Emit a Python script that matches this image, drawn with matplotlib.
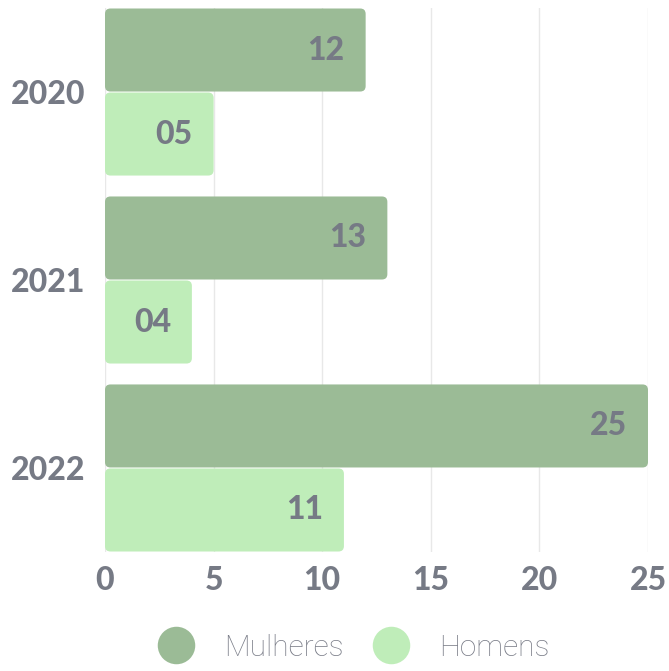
import matplotlib
matplotlib.use("Agg")
import matplotlib.pyplot as plt
from matplotlib.patches import FancyBboxPatch
from matplotlib.lines import Line2D

# data
years = ["2020", "2021", "2022"]
mulheres = [12, 13, 25]
homens = [5, 4, 11]
series_names = ["Mulheres", "Homens"]
x_ticks = [0, 5, 10, 15, 20, 25]

c_mulheres = "#9bbb96"
c_homens = "#bfedb9"
c_text = "#767a85"

plt.rcParams["font.family"] = ["Lato", "DejaVu Sans"]

fig = plt.figure(figsize=(6.69, 6.71), dpi=100)
ax = fig.add_axes([105 / 669, 119 / 671, 543 / 669, 544 / 671])

bar_h = 0.447
ypos = list(range(len(years)))
bars_m = ax.barh([y - bar_h / 2 for y in ypos], mulheres, height=bar_h, color=c_mulheres)
bars_h = ax.barh([y + bar_h / 2 for y in ypos], homens, height=bar_h, color=c_homens)

ax.set_xlim(0, 25)
ax.set_ylim(2 + bar_h, -bar_h)

# swap plain rectangles for rounded ones (same geometry)
px_x = 543 / 25
px_y = 544 / (2 + 2 * bar_h)
for bars, color in ((bars_m, c_mulheres), (bars_h, c_homens)):
    for r in bars:
        r.set_visible(False)
        x0, y0 = r.get_x(), r.get_y()
        w, h = r.get_width(), r.get_height()
        gap = 0.5 / px_y
        p = FancyBboxPatch((x0, y0 + gap), w, h - 2 * gap,
                           boxstyle="round,pad=0,rounding_size=0.25",
                           mutation_aspect=px_x / px_y,
                           facecolor=color, edgecolor="none", zorder=3)
        ax.add_patch(p)
        ax.text(w - 21 / px_x, y0 + h / 2, f"{int(w):02d}",
                ha="right", va="center", fontsize=23, fontweight=900,
                color=c_text, zorder=4)

ax.set_xticks(x_ticks)
ax.set_yticks(ypos)
ax.set_yticklabels(years)
ax.tick_params(axis="both", length=0, labelsize=23, labelcolor=c_text)
ax.tick_params(axis="y", pad=14)
ax.tick_params(axis="x", pad=10)
for lab in ax.get_xticklabels() + ax.get_yticklabels():
    lab.set_fontweight(900)

ax.grid(axis="x", color="#e8e8e8", linewidth=1, zorder=0)
ax.set_axisbelow(True)
for s in ax.spines.values():
    s.set_visible(False)

handles = [Line2D([], [], marker="o", linestyle="none", markersize=27,
                  markerfacecolor=c, markeredgecolor="none")
           for c in (c_mulheres, c_homens)]
leg = fig.legend(handles, series_names, loc="center", bbox_to_anchor=(0.52, 0.035),
                 ncol=2, frameon=False, handletextpad=0.6,
                 columnspacing=0.6, prop={"family": "Roboto", "weight": "light", "size": 21.5})
for t in leg.get_texts():
    t.set_color("#7a7d88")

fig.savefig("out.png", dpi=100, facecolor="white")
